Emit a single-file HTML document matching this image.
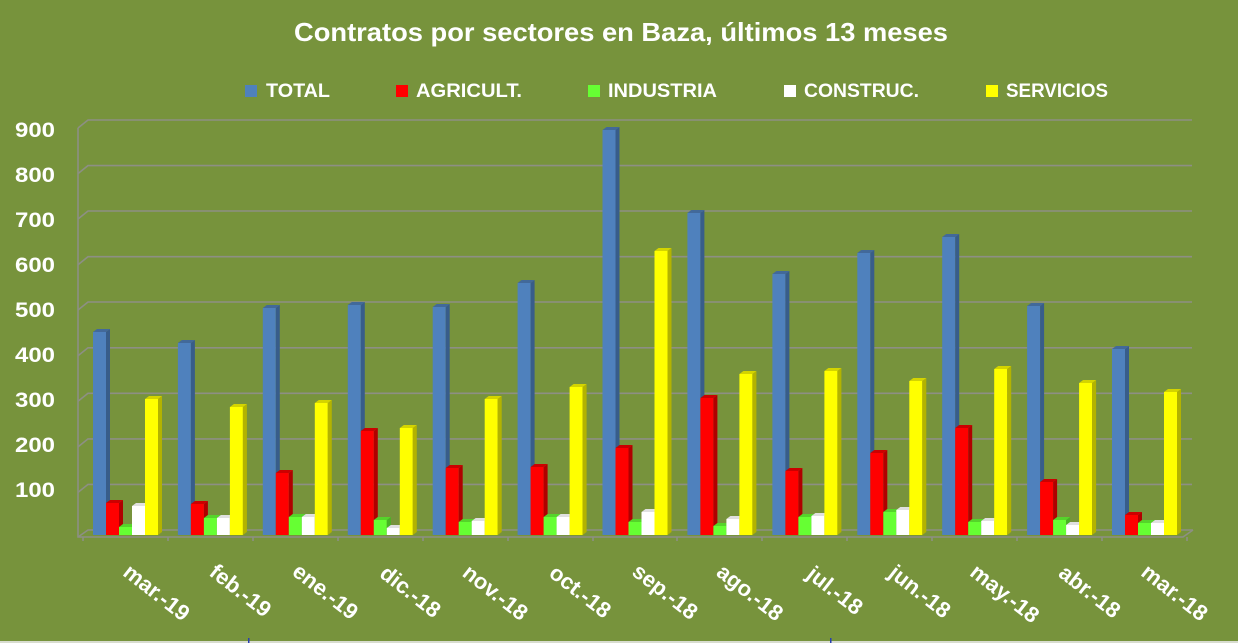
<!DOCTYPE html>
<html><head><meta charset="utf-8"><style>
html,body{margin:0;padding:0;background:#77933c;}
svg{display:block;}
.t{font-family:"Liberation Sans",sans-serif;font-weight:bold;fill:#fff;}
.bf{fill:#4f81bd}.bs{fill:#385d8a}.bt{fill:#42699a}
.rf{fill:#ff0000}.rs{fill:#b00000}.rt{fill:#cc0000}
.gf{fill:#66ff33}.gs{fill:#47b324}.gt{fill:#55d42a}
.wf{fill:#ffffff}.ws{fill:#c8c8c8}.wt{fill:#e0e0e0}
.yf{fill:#ffff00}.ys{fill:#b3b300}.yt{fill:#d4d400}
</style></head><body>
<svg width="1238" height="643" viewBox="0 0 1238 643" xmlns="http://www.w3.org/2000/svg">
<rect width="1238" height="643" fill="#77933c"/>
<text class="t" x="621" y="41" font-size="26" text-anchor="middle" textLength="654" lengthAdjust="spacingAndGlyphs">Contratos por sectores en Baza, últimos 13 meses</text>
<rect x="245" y="85" width="12" height="12" fill="#4f81bd"/>
<text class="t" x="266" y="97" font-size="19" textLength="64" lengthAdjust="spacingAndGlyphs">TOTAL</text>
<rect x="396" y="85" width="12" height="12" fill="#ff0000"/>
<text class="t" x="416" y="97" font-size="19" textLength="106" lengthAdjust="spacingAndGlyphs">AGRICULT.</text>
<rect x="588" y="85" width="12" height="12" fill="#66ff33"/>
<text class="t" x="608" y="97" font-size="19" textLength="109" lengthAdjust="spacingAndGlyphs">INDUSTRIA</text>
<rect x="784" y="85" width="12" height="12" fill="#ffffff"/>
<text class="t" x="804" y="97" font-size="19" textLength="115" lengthAdjust="spacingAndGlyphs">CONSTRUC.</text>
<rect x="986" y="85" width="12" height="12" fill="#ffff00"/>
<text class="t" x="1006" y="97" font-size="19" textLength="102" lengthAdjust="spacingAndGlyphs">SERVICIOS</text>

<g fill="none" stroke="#8d8f84" stroke-width="1.6">
<path d="M78,128L88,120H1192"/>
<path d="M78,173.6L88,165.6H1192"/>
<path d="M78,219L88,211H1192"/>
<path d="M78,264.7L88,256.7H1192"/>
<path d="M78,310L88,302H1192"/>
<path d="M78,355.8L88,347.8H1192"/>
<path d="M78,401.3L88,393.3H1192"/>
<path d="M78,446.9L88,438.9H1192"/>
<path d="M78,492.4L88,484.4H1192"/>
<path d="M78,537L88,530H1193"/>
<path d="M78,128V537H1183L1193,530"/>
<path d="M83,537v4M168,537v4M253,537v4M338,537v4M423,537v4M508,537v4M593,537v4M677,537v4M762,537v4M847,537v4M932,537v4M1017,537v4M1102,537v4M1187,537v4"/>
</g>

<g class="t" font-size="21" text-anchor="end">
<text x="55" y="137" textLength="40" lengthAdjust="spacingAndGlyphs">900</text>
<text x="55" y="182" textLength="40" lengthAdjust="spacingAndGlyphs">800</text>
<text x="55" y="227" textLength="40" lengthAdjust="spacingAndGlyphs">700</text>
<text x="55" y="272" textLength="40" lengthAdjust="spacingAndGlyphs">600</text>
<text x="55" y="317" textLength="40" lengthAdjust="spacingAndGlyphs">500</text>
<text x="55" y="362" textLength="40" lengthAdjust="spacingAndGlyphs">400</text>
<text x="55" y="407" textLength="40" lengthAdjust="spacingAndGlyphs">300</text>
<text x="55" y="452" textLength="40" lengthAdjust="spacingAndGlyphs">200</text>
<text x="55" y="497" textLength="40" lengthAdjust="spacingAndGlyphs">100</text>
</g>

<!-- g0 mar-19 -->
<g transform="translate(93,0)">
<rect class="bf" x="0" y="332" width="13" height="203"/><path class="bs" d="M13,332l4,-3V532l-4,3z"/><path class="bt" d="M0,332l4,-3h13l-4,3z"/>
<rect class="rf" x="13" y="503" width="13" height="32"/><path class="rs" d="M26,503l4,-3V532l-4,3z"/><path class="rt" d="M13,503l4,-3h13l-4,3z"/>
<rect class="gf" x="26" y="527" width="13" height="8"/><path class="gs" d="M39,527l4,-3V532l-4,3z"/><path class="gt" d="M26,527l4,-3h13l-4,3z"/>
<rect class="wf" x="39" y="506" width="13" height="29"/><path class="ws" d="M52,506l4,-3V532l-4,3z"/><path class="wt" d="M39,506l4,-3h13l-4,3z"/>
<rect class="yf" x="52" y="399" width="13" height="136"/><path class="ys" d="M65,399l4,-3V532l-4,3z"/><path class="yt" d="M52,399l4,-3h13l-4,3z"/>
</g>
<!-- g1 feb-19 -->
<g transform="translate(177.9,0)">
<rect class="bf" x="0" y="343" width="13" height="192"/><path class="bs" d="M13,343l4,-3V532l-4,3z"/><path class="bt" d="M0,343l4,-3h13l-4,3z"/>
<rect class="rf" x="13" y="504" width="13" height="31"/><path class="rs" d="M26,504l4,-3V532l-4,3z"/><path class="rt" d="M13,504l4,-3h13l-4,3z"/>
<rect class="gf" x="26" y="518" width="13" height="17"/><path class="gs" d="M39,518l4,-3V532l-4,3z"/><path class="gt" d="M26,518l4,-3h13l-4,3z"/>
<rect class="wf" x="39" y="518" width="13" height="17"/><path class="ws" d="M52,518l4,-3V532l-4,3z"/><path class="wt" d="M39,518l4,-3h13l-4,3z"/>
<rect class="yf" x="52" y="407" width="13" height="128"/><path class="ys" d="M65,407l4,-3V532l-4,3z"/><path class="yt" d="M52,407l4,-3h13l-4,3z"/>
</g>
<!-- g2 ene-19 -->
<g transform="translate(262.8,0)">
<rect class="bf" x="0" y="308" width="13" height="227"/><path class="bs" d="M13,308l4,-3V532l-4,3z"/><path class="bt" d="M0,308l4,-3h13l-4,3z"/>
<rect class="rf" x="13" y="473" width="13" height="62"/><path class="rs" d="M26,473l4,-3V532l-4,3z"/><path class="rt" d="M13,473l4,-3h13l-4,3z"/>
<rect class="gf" x="26" y="517" width="13" height="18"/><path class="gs" d="M39,517l4,-3V532l-4,3z"/><path class="gt" d="M26,517l4,-3h13l-4,3z"/>
<rect class="wf" x="39" y="517" width="13" height="18"/><path class="ws" d="M52,517l4,-3V532l-4,3z"/><path class="wt" d="M39,517l4,-3h13l-4,3z"/>
<rect class="yf" x="52" y="403" width="13" height="132"/><path class="ys" d="M65,403l4,-3V532l-4,3z"/><path class="yt" d="M52,403l4,-3h13l-4,3z"/>
</g>
<!-- g3 dic-18 -->
<g transform="translate(347.8,0)">
<rect class="bf" x="0" y="305" width="13" height="230"/><path class="bs" d="M13,305l4,-3V532l-4,3z"/><path class="bt" d="M0,305l4,-3h13l-4,3z"/>
<rect class="rf" x="13" y="431" width="13" height="104"/><path class="rs" d="M26,431l4,-3V532l-4,3z"/><path class="rt" d="M13,431l4,-3h13l-4,3z"/>
<rect class="gf" x="26" y="520" width="13" height="15"/><path class="gs" d="M39,520l4,-3V532l-4,3z"/><path class="gt" d="M26,520l4,-3h13l-4,3z"/>
<rect class="wf" x="39" y="528" width="13" height="7"/><path class="ws" d="M52,528l4,-3V532l-4,3z"/><path class="wt" d="M39,528l4,-3h13l-4,3z"/>
<rect class="yf" x="52" y="428" width="13" height="107"/><path class="ys" d="M65,428l4,-3V532l-4,3z"/><path class="yt" d="M52,428l4,-3h13l-4,3z"/>
</g>
<!-- g4 nov-18 -->
<g transform="translate(432.7,0)">
<rect class="bf" x="0" y="307" width="13" height="228"/><path class="bs" d="M13,307l4,-3V532l-4,3z"/><path class="bt" d="M0,307l4,-3h13l-4,3z"/>
<rect class="rf" x="13" y="468" width="13" height="67"/><path class="rs" d="M26,468l4,-3V532l-4,3z"/><path class="rt" d="M13,468l4,-3h13l-4,3z"/>
<rect class="gf" x="26" y="522" width="13" height="13"/><path class="gs" d="M39,522l4,-3V532l-4,3z"/><path class="gt" d="M26,522l4,-3h13l-4,3z"/>
<rect class="wf" x="39" y="521" width="13" height="14"/><path class="ws" d="M52,521l4,-3V532l-4,3z"/><path class="wt" d="M39,521l4,-3h13l-4,3z"/>
<rect class="yf" x="52" y="399" width="13" height="136"/><path class="ys" d="M65,399l4,-3V532l-4,3z"/><path class="yt" d="M52,399l4,-3h13l-4,3z"/>
</g>
<!-- g5 oct-18 -->
<g transform="translate(517.6,0)">
<rect class="bf" x="0" y="283" width="13" height="252"/><path class="bs" d="M13,283l4,-3V532l-4,3z"/><path class="bt" d="M0,283l4,-3h13l-4,3z"/>
<rect class="rf" x="13" y="467" width="13" height="68"/><path class="rs" d="M26,467l4,-3V532l-4,3z"/><path class="rt" d="M13,467l4,-3h13l-4,3z"/>
<rect class="gf" x="26" y="517" width="13" height="18"/><path class="gs" d="M39,517l4,-3V532l-4,3z"/><path class="gt" d="M26,517l4,-3h13l-4,3z"/>
<rect class="wf" x="39" y="517" width="13" height="18"/><path class="ws" d="M52,517l4,-3V532l-4,3z"/><path class="wt" d="M39,517l4,-3h13l-4,3z"/>
<rect class="yf" x="52" y="387" width="13" height="148"/><path class="ys" d="M65,387l4,-3V532l-4,3z"/><path class="yt" d="M52,387l4,-3h13l-4,3z"/>
</g>
<!-- g6 sep-18 -->
<g transform="translate(602.5,0)">
<rect class="bf" x="0" y="130" width="13" height="405"/><path class="bs" d="M13,130l4,-3V532l-4,3z"/><path class="bt" d="M0,130l4,-3h13l-4,3z"/>
<rect class="rf" x="13" y="448" width="13" height="87"/><path class="rs" d="M26,448l4,-3V532l-4,3z"/><path class="rt" d="M13,448l4,-3h13l-4,3z"/>
<rect class="gf" x="26" y="522" width="13" height="13"/><path class="gs" d="M39,522l4,-3V532l-4,3z"/><path class="gt" d="M26,522l4,-3h13l-4,3z"/>
<rect class="wf" x="39" y="512" width="13" height="23"/><path class="ws" d="M52,512l4,-3V532l-4,3z"/><path class="wt" d="M39,512l4,-3h13l-4,3z"/>
<rect class="yf" x="52" y="251" width="13" height="284"/><path class="ys" d="M65,251l4,-3V532l-4,3z"/><path class="yt" d="M52,251l4,-3h13l-4,3z"/>
</g>
<!-- g7 ago-18 -->
<g transform="translate(687.4,0)">
<rect class="bf" x="0" y="213" width="13" height="322"/><path class="bs" d="M13,213l4,-3V532l-4,3z"/><path class="bt" d="M0,213l4,-3h13l-4,3z"/>
<rect class="rf" x="13" y="398" width="13" height="137"/><path class="rs" d="M26,398l4,-3V532l-4,3z"/><path class="rt" d="M13,398l4,-3h13l-4,3z"/>
<rect class="gf" x="26" y="526" width="13" height="9"/><path class="gs" d="M39,526l4,-3V532l-4,3z"/><path class="gt" d="M26,526l4,-3h13l-4,3z"/>
<rect class="wf" x="39" y="519" width="13" height="16"/><path class="ws" d="M52,519l4,-3V532l-4,3z"/><path class="wt" d="M39,519l4,-3h13l-4,3z"/>
<rect class="yf" x="52" y="374" width="13" height="161"/><path class="ys" d="M65,374l4,-3V532l-4,3z"/><path class="yt" d="M52,374l4,-3h13l-4,3z"/>
</g>
<!-- g8 jul-18 -->
<g transform="translate(772.4,0)">
<rect class="bf" x="0" y="274" width="13" height="261"/><path class="bs" d="M13,274l4,-3V532l-4,3z"/><path class="bt" d="M0,274l4,-3h13l-4,3z"/>
<rect class="rf" x="13" y="471" width="13" height="64"/><path class="rs" d="M26,471l4,-3V532l-4,3z"/><path class="rt" d="M13,471l4,-3h13l-4,3z"/>
<rect class="gf" x="26" y="517" width="13" height="18"/><path class="gs" d="M39,517l4,-3V532l-4,3z"/><path class="gt" d="M26,517l4,-3h13l-4,3z"/>
<rect class="wf" x="39" y="516" width="13" height="19"/><path class="ws" d="M52,516l4,-3V532l-4,3z"/><path class="wt" d="M39,516l4,-3h13l-4,3z"/>
<rect class="yf" x="52" y="371" width="13" height="164"/><path class="ys" d="M65,371l4,-3V532l-4,3z"/><path class="yt" d="M52,371l4,-3h13l-4,3z"/>
</g>
<!-- g9 jun-18 -->
<g transform="translate(857.3,0)">
<rect class="bf" x="0" y="253" width="13" height="282"/><path class="bs" d="M13,253l4,-3V532l-4,3z"/><path class="bt" d="M0,253l4,-3h13l-4,3z"/>
<rect class="rf" x="13" y="453" width="13" height="82"/><path class="rs" d="M26,453l4,-3V532l-4,3z"/><path class="rt" d="M13,453l4,-3h13l-4,3z"/>
<rect class="gf" x="26" y="512" width="13" height="23"/><path class="gs" d="M39,512l4,-3V532l-4,3z"/><path class="gt" d="M26,512l4,-3h13l-4,3z"/>
<rect class="wf" x="39" y="510" width="13" height="25"/><path class="ws" d="M52,510l4,-3V532l-4,3z"/><path class="wt" d="M39,510l4,-3h13l-4,3z"/>
<rect class="yf" x="52" y="381" width="13" height="154"/><path class="ys" d="M65,381l4,-3V532l-4,3z"/><path class="yt" d="M52,381l4,-3h13l-4,3z"/>
</g>
<!-- g10 may-18 -->
<g transform="translate(942.2,0)">
<rect class="bf" x="0" y="237" width="13" height="298"/><path class="bs" d="M13,237l4,-3V532l-4,3z"/><path class="bt" d="M0,237l4,-3h13l-4,3z"/>
<rect class="rf" x="13" y="428" width="13" height="107"/><path class="rs" d="M26,428l4,-3V532l-4,3z"/><path class="rt" d="M13,428l4,-3h13l-4,3z"/>
<rect class="gf" x="26" y="522" width="13" height="13"/><path class="gs" d="M39,522l4,-3V532l-4,3z"/><path class="gt" d="M26,522l4,-3h13l-4,3z"/>
<rect class="wf" x="39" y="521" width="13" height="14"/><path class="ws" d="M52,521l4,-3V532l-4,3z"/><path class="wt" d="M39,521l4,-3h13l-4,3z"/>
<rect class="yf" x="52" y="369" width="13" height="166"/><path class="ys" d="M65,369l4,-3V532l-4,3z"/><path class="yt" d="M52,369l4,-3h13l-4,3z"/>
</g>
<!-- g11 abr-18 -->
<g transform="translate(1027.1,0)">
<rect class="bf" x="0" y="306" width="13" height="229"/><path class="bs" d="M13,306l4,-3V532l-4,3z"/><path class="bt" d="M0,306l4,-3h13l-4,3z"/>
<rect class="rf" x="13" y="482" width="13" height="53"/><path class="rs" d="M26,482l4,-3V532l-4,3z"/><path class="rt" d="M13,482l4,-3h13l-4,3z"/>
<rect class="gf" x="26" y="520" width="13" height="15"/><path class="gs" d="M39,520l4,-3V532l-4,3z"/><path class="gt" d="M26,520l4,-3h13l-4,3z"/>
<rect class="wf" x="39" y="525" width="13" height="10"/><path class="ws" d="M52,525l4,-3V532l-4,3z"/><path class="wt" d="M39,525l4,-3h13l-4,3z"/>
<rect class="yf" x="52" y="383" width="13" height="152"/><path class="ys" d="M65,383l4,-3V532l-4,3z"/><path class="yt" d="M52,383l4,-3h13l-4,3z"/>
</g>
<!-- g12 mar-18 -->
<g transform="translate(1112,0)">
<rect class="bf" x="0" y="349" width="13" height="186"/><path class="bs" d="M13,349l4,-3V532l-4,3z"/><path class="bt" d="M0,349l4,-3h13l-4,3z"/>
<rect class="rf" x="13" y="515" width="13" height="20"/><path class="rs" d="M26,515l4,-3V532l-4,3z"/><path class="rt" d="M13,515l4,-3h13l-4,3z"/>
<rect class="gf" x="26" y="523" width="13" height="12"/><path class="gs" d="M39,523l4,-3V532l-4,3z"/><path class="gt" d="M26,523l4,-3h13l-4,3z"/>
<rect class="wf" x="39" y="523" width="13" height="12"/><path class="ws" d="M52,523l4,-3V532l-4,3z"/><path class="wt" d="M39,523l4,-3h13l-4,3z"/>
<rect class="yf" x="52" y="392" width="13" height="143"/><path class="ys" d="M65,392l4,-3V532l-4,3z"/><path class="yt" d="M52,392l4,-3h13l-4,3z"/>
</g>

<g class="t" font-size="22" text-anchor="middle">
<text transform="translate(157,592) rotate(38)" dy="8">mar.-19</text>
<text transform="translate(240.9,590) rotate(38)" dy="8">feb.-19</text>
<text transform="translate(325.8,591) rotate(38)" dy="8">ene.-19</text>
<text transform="translate(410.8,591) rotate(38)" dy="8">dic.-18</text>
<text transform="translate(495.7,592) rotate(38)" dy="8">nov.-18</text>
<text transform="translate(580.6,591) rotate(38)" dy="8">oct.-18</text>
<text transform="translate(665.5,591) rotate(38)" dy="8">sep.-18</text>
<text transform="translate(750.4,592) rotate(38)" dy="8">ago.-18</text>
<text transform="translate(835.4,590) rotate(38)" dy="8">jul.-18</text>
<text transform="translate(920.3,591) rotate(38)" dy="8">jun.-18</text>
<text transform="translate(1005.2,593) rotate(38)" dy="8">may.-18</text>
<text transform="translate(1090.1,591) rotate(38)" dy="8">abr.-18</text>
<text transform="translate(1175,592) rotate(38)" dy="8">mar.-18</text>
</g>

<rect x="0" y="641" width="1238" height="2" fill="#d8dccf"/>
<rect x="248" y="638" width="1.5" height="5" fill="#2a3fb0"/>
<rect x="830" y="638" width="1.5" height="5" fill="#2a3fb0"/>
</svg>
</body></html>
